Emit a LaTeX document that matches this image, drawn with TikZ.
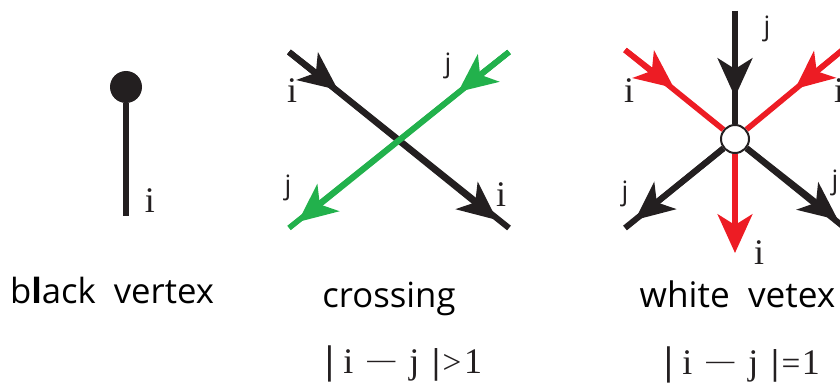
\documentclass[tikz,border=0pt]{standalone}
\usepackage{fontspec}
\setmainfont{Open Sans}
\newfontfamily\labelfont{Liberation Serif}
\usetikzlibrary{arrows.meta}
\definecolor{inkblack}{HTML}{231F20}
\definecolor{inkred}{HTML}{ED1C24}
\definecolor{inkgreen}{HTML}{22B14C}
% |i - j| followed by a relation, spaced by hand
\newcommand{\condline}[2]{{\fontsize{30}{30}\selectfont\textbf{\textbar}}\hspace{7pt}i\hspace{10.5pt}\raisebox{3.6pt}{\fontsize{21}{30}\selectfont—}\hspace{10.5pt}j\hspace{9.5pt}\textbf{\textbar}\hspace{2pt}{\fontsize{25}{30}\selectfont #1}\hspace{#2}1}
\tikzset{
  strand/.style={line width=4.5pt,inkblack},
  redstrand/.style={line width=4.2pt,inkred},
  greenstrand/.style={line width=4.2pt,inkgreen},
  headed/.style={-{Stealth[length=29pt,width=26pt,inset=8pt]}},
  caption/.style={anchor=base,inner sep=0pt,font=\fontsize{26}{30}\selectfont},
  formula/.style={anchor=base west,inner sep=0pt,font=\labelfont\fontsize{27}{30}\selectfont,inkblack},
  idx/.style={anchor=base,inner sep=0pt,font=\labelfont\fontsize{27}{30}\selectfont,inkblack},
  jdx/.style={anchor=base,inner sep=0pt,font=\fontsize{20}{24}\selectfont,inkblack}
}
\begin{document}
\begin{tikzpicture}[x=0.75pt,y=-0.75pt]
        \clip (0,0) rectangle (840,385);

        % Black vertex
        \node[circle,fill=inkblack,minimum size=24pt,inner sep=0pt] (bv) at (126,87) {};
        \coordinate (bvEnd) at (126,216);
        \draw[strand] (bv) -- (bvEnd);
        \node[idx] (bvI) at (150,212) {i};
        \node[caption] (bvText) at (112,303) {b\textbf{l}ack\ \ vertex};

        % Crossing
        \coordinate (cNW) at (289,52);
        \coordinate (cNWtip) at (338,90);
        \coordinate (cSE) at (509,228);
        \coordinate (cSEtip) at (497,220);
        \coordinate (cNE) at (509,52);
        \coordinate (cNEtip) at (458,92);
        \coordinate (cSW) at (289,228);
        \coordinate (cSWtip) at (298,222);
        \draw[strand] (cNW) -- (cSE);
        \draw[strand,headed] (cNW) -- (cNWtip);
        \draw[strand,headed] (cNW) -- (cSEtip);
        \draw[greenstrand] (cNE) -- (cSW);
        \draw[greenstrand,headed] (cNE) -- (cNEtip);
        \draw[greenstrand,headed] (cNE) -- (cSWtip);
        \node[idx] (cI1) at (292,103) {i};
        \node[idx] (cI2) at (501,206) {i};
        \node[jdx] (cJ1) at (448,73) {j};
        \node[jdx] (cJ2) at (288,195) {j};
        \node[caption] (cText) at (389,307) {crossing};
        \node[formula] (cCond) at (325,373) {\condline{>}{2pt}};

        % White vertex
        \node[circle,draw=inkblack,line width=1.5pt,fill=white,minimum size=21pt,inner sep=0pt] (wv) at (735,139) {};
        \coordinate (wN) at (735,11);
        \coordinate (wNtip) at (735,97);
        \coordinate (wNW) at (625,50);
        \coordinate (wNWtip) at (674,88);
        \coordinate (wNE) at (845,48);
        \coordinate (wNEtip) at (795,89);
        \coordinate (wSW) at (625,228);
        \coordinate (wSWtip) at (635,220);
        \coordinate (wSE) at (845,228);
        \coordinate (wSEtip) at (838,220);
        \coordinate (wStip) at (735,253);
        \draw[strand] (wN) -- (wv);
        \draw[strand,headed] (wN) -- (wNtip);
        \draw[redstrand] (wNW) -- (wv);
        \draw[redstrand,headed] (wNW) -- (wNWtip);
        \draw[redstrand] (wNE) -- (wv);
        \draw[redstrand,headed] (wNE) -- (wNEtip);
        \draw[strand,headed] (wv) -- (wSWtip);
        \draw[strand] (wv) -- (wSW);
        \draw[strand,headed] (wv) -- (wSEtip);
        \draw[strand] (wv) -- (wSE);
        \draw[redstrand,headed] (wv) -- (wStip);
        \node[idx] (wI1) at (629,103) {i};
        \node[idx] (wI2) at (839,103) {i};
        \node[idx] (wI3) at (759,264) {i};
        \node[jdx] (wJ1) at (767,36) {j};
        \node[jdx] (wJ2) at (625,200) {j};
        \node[jdx] (wJ3) at (835,190) {j};
        \node[caption,font=\fontsize{26.4}{30}\selectfont] (wText) at (737.5,307) {white\ \ vetex};
        \node[formula] (wCond) at (664,374) {\condline{=}{1pt}};
    \end{tikzpicture}
\end{document}
